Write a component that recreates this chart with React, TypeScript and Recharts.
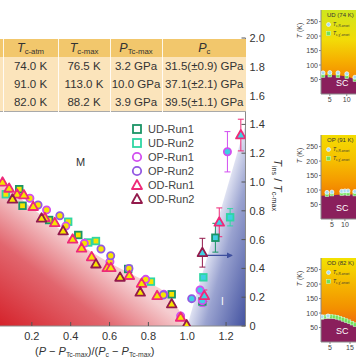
import React from "react";
import {
  Area,
  ComposedChart,
  ErrorBar,
  Line,
  ReferenceArea,
  Scatter,
  XAxis,
  YAxis,
} from "recharts";

const FONT = '"Liberation Sans", Arial, Helvetica, sans-serif';
const YELLOW = "#f6e400";
const CYAN = "#3fd0e2";

// phase boundaries of the main panel
const domeEdge = [
  { x: 0, y: 1.02 },
  { x: 0.1, y: 0.93 },
  { x: 0.2, y: 0.82 },
  { x: 0.3, y: 0.72 },
  { x: 0.4, y: 0.61 },
  { x: 0.5, y: 0.52 },
  { x: 0.6, y: 0.44 },
  { x: 0.7, y: 0.37 },
  { x: 0.8, y: 0.3 },
  { x: 0.88, y: 0.24 },
  { x: 0.94, y: 0.15 },
  { x: 1.0, y: 0 },
];
const insulatorEdge = [
  { x: 1.0, y: 0 },
  { x: 1.3, y: 1.4 },
];
const arrowPath = [
  { x: 1.08, y: 0.49 },
  { x: 1.23, y: 0.49 },
];

const udRun1 = [
  { x: 0.135, y: 0.95 },
  { x: 0.152, y: 0.835 },
  { x: 0.289, y: 0.736 },
  { x: 0.439, y: 0.632 },
  { x: 0.696, y: 0.396 },
  { x: 0.92, y: 0.22 },
  { x: 1.078, y: 0.17 },
  { x: 1.145, y: 0.613, err: 0.1 },
];
const udRun2 = [
  { x: 0.066, y: 0.915 },
  { x: 0.387, y: 0.724 },
  { x: 0.49, y: 0.58 },
  { x: 0.53, y: 0.59 },
  { x: 0.813, y: 0.308 },
  { x: 1.083, y: 0.338 },
  { x: 1.221, y: 0.755, err: 0.06 },
];
const opRun1 = [
  { x: 0.19, y: 0.887 },
  { x: 0.276, y: 0.806 },
  { x: 0.375, y: 0.694 },
  { x: 0.47, y: 0.574 },
  { x: 0.602, y: 0.447 },
  { x: 0.786, y: 0.324 },
  { x: 0.88, y: 0.22 },
  { x: 0.966, y: 0.07 },
  { x: 1.066, y: 0.25 },
  { x: 1.078, y: 0.176, err: 0.04 },
  { x: 1.207, y: 1.21, err: 0.14 },
];
const opRun2 = [
  { x: 0.232, y: 0.84 },
  { x: 0.344, y: 0.766 },
  { x: 0.556, y: 0.535 },
  { x: 0.606, y: 0.488 },
  { x: 0.7, y: 0.4 },
  { x: 0.877, y: 0.215 },
  { x: 1.023, y: 0.19 },
];
const odRun1 = [
  { x: 0.049, y: 0.998 },
  { x: 0.083, y: 0.956 },
  { x: 0.124, y: 0.915 },
  { x: 0.159, y: 0.91 },
  { x: 0.207, y: 0.829 },
  { x: 0.267, y: 0.752 },
  { x: 0.318, y: 0.717 },
  { x: 0.41, y: 0.602 },
  { x: 0.456, y: 0.54 },
  { x: 0.508, y: 0.48 },
  { x: 0.588, y: 0.405 },
  { x: 0.607, y: 0.405 },
  { x: 0.702, y: 0.35 },
  { x: 0.765, y: 0.296 },
  { x: 0.845, y: 0.21 },
  { x: 0.966, y: 0.06 },
  { x: 1.088, y: 0.21, err: 0.04 },
  { x: 1.165, y: 0.72, err: 0.1 },
  { x: 1.276, y: 1.326, err: 0.11 },
];
const odRun2 = [
  { x: 0.1, y: 0.88 },
  { x: 0.25, y: 0.748 },
  { x: 0.361, y: 0.66 },
  { x: 0.53, y: 0.43 },
  { x: 0.654, y: 0.338 },
  { x: 0.758, y: 0.234 },
  { x: 0.92, y: 0.153 },
  { x: 0.997, y: 0.007 },
  { x: 1.078, y: 0.509, err: 0.1 },
];

const xTicks = [0.2, 0.4, 0.6, 0.8, 1.0, 1.2];
const yTicks = [0, 0.2, 0.4, 0.6, 0.8, 1.0, 1.2, 1.4, 1.6, 1.8, 2.0];

const tcAtm = ["74.0 K", "91.0 K", "82.0 K"];
const tcMax = ["76.5 K", "113.0 K", "88.2 K"];
const pTcMax = ["3.2 GPa", "10.0 GPa", "3.9 GPa"];
const pc = ["31.5(±0.9) GPa", "37.1(±2.1) GPa", "39.5(±1.1) GPa"];

// small T–P panels on the right
const udEdge = [
  { x: 2.4, y: 64 },
  { x: 5, y: 66 },
  { x: 8, y: 64 },
  { x: 10, y: 60 },
  { x: 12.4, y: 50 },
  { x: 15, y: 40 },
  { x: 20, y: 25 },
];
const udOnsetR = [
  { x: 3, y: 73 },
  { x: 5, y: 74 },
  { x: 7.4, y: 73 },
  { x: 10, y: 70 },
  { x: 12.4, y: 58 },
];
const udOnsetChi = [
  { x: 3, y: 64 },
  { x: 5, y: 65 },
  { x: 7.4, y: 63 },
  { x: 10, y: 60 },
  { x: 12.4, y: 50 },
];
const opEdge = [
  { x: 0.8, y: 80 },
  { x: 5, y: 82 },
  { x: 10, y: 85 },
  { x: 15, y: 84 },
  { x: 20, y: 80 },
  { x: 24, y: 76 },
];
const opOnsetR = [
  { x: 3.1, y: 92 },
  { x: 5, y: 93 },
  { x: 8.8, y: 96 },
  { x: 10, y: 97 },
  { x: 11.2, y: 97 },
  { x: 13.8, y: 95 },
];
const opOnsetChi = [
  { x: 3.1, y: 84 },
  { x: 5, y: 86 },
  { x: 8.8, y: 88 },
  { x: 10, y: 89 },
  { x: 11.2, y: 88 },
  { x: 13.8, y: 86 },
];
const odEdge = [
  { x: 0.5, y: 80 },
  { x: 4, y: 84 },
  { x: 8, y: 81 },
  { x: 12, y: 73 },
  { x: 16, y: 62 },
  { x: 20, y: 50 },
  { x: 30, y: 25 },
];
const odOnsetR = [
  { x: 1, y: 87 },
  { x: 4, y: 90 },
];
const odOnsetChi = [
  { x: 1, y: 85 },
  { x: 2.5, y: 87 },
  { x: 4, y: 88 },
  { x: 5.5, y: 88 },
  { x: 7, y: 87 },
  { x: 8.5, y: 85 },
  { x: 10, y: 82 },
  { x: 11.5, y: 78 },
  { x: 13, y: 74 },
  { x: 14.5, y: 70 },
  { x: 16, y: 65 },
  { x: 17.5, y: 60 },
];
const panelYTicks = [50, 100, 150, 200, 250];

type Kind = "square" | "circle" | "triangle";

function marker(kind: Kind, stroke: string) {
  return (props: any) => {
    const { cx, cy, payload } = props;
    const fill = payload.x > 1 ? CYAN : YELLOW;
    if (kind === "square")
      return <rect x={cx - 3.3} y={cy - 3.3} width={6.6} height={6.6} fill={fill} stroke={stroke} strokeWidth={1.8} />;
    if (kind === "circle")
      return <circle cx={cx} cy={cy} r={3.6} fill={fill} stroke={stroke} strokeWidth={1.8} />;
    return (
      <path
        d={`M${cx},${cy - 5} L${cx + 4.8},${cy + 3.4} L${cx - 4.8},${cy + 3.4} Z`}
        fill={fill}
        stroke={stroke}
        strokeWidth={1.8}
        strokeLinejoin="round"
      />
    );
  };
}

const series = [
  { name: "UD-Run1", data: udRun1, kind: "square" as Kind, color: "#1b9466" },
  { name: "UD-Run2", data: udRun2, kind: "square" as Kind, color: "#2fd6a4" },
  { name: "OP-Run1", data: opRun1, kind: "circle" as Kind, color: "#d24ef0" },
  { name: "OP-Run2", data: opRun2, kind: "circle" as Kind, color: "#9358e2" },
  { name: "OD-Run1", data: odRun1, kind: "triangle" as Kind, color: "#ee2a78" },
  { name: "OD-Run2", data: odRun2, kind: "triangle" as Kind, color: "#931a4c" },
];

function LegendIcon({ kind, color }: { kind: Kind; color: string }) {
  return (
    <svg width={12} height={12}>
      {kind === "square" && <rect x={2} y={2} width={8} height={8} fill="none" stroke={color} strokeWidth={1.8} />}
      {kind === "circle" && <circle cx={6} cy={6} r={4.2} fill="none" stroke={color} strokeWidth={1.8} />}
      {kind === "triangle" && (
        <path d="M6,1 L11,10 L1,10 Z" fill="none" stroke={color} strokeWidth={1.8} strokeLinejoin="round" />
      )}
    </svg>
  );
}

const Tsub = ({ main, sub }: { main: string; sub: string }) => (
  <span>
    <i>{main}</i>
    <sub style={{ fontSize: "0.62em", verticalAlign: "-0.25em" }}>{sub}</sub>
  </span>
);

function InfoTable() {
  const cell: React.CSSProperties = {
    borderLeft: "1px solid rgba(255,255,255,0.85)",
    textAlign: "center",
    padding: 0,
    height: 18,
  };
  const widths = [3, 55, 52, 52, 84];
  return (
    <table
      style={{
        position: "absolute",
        left: 0,
        top: 39,
        width: 246,
        borderCollapse: "collapse",
        tableLayout: "fixed",
        fontSize: 11.5,
        color: "#333",
        borderBottom: "1px solid #a9a9a9",
      }}
    >
      <colgroup>
        {widths.map((w, i) => (
          <col key={i} style={{ width: w }} />
        ))}
      </colgroup>
      <thead>
        <tr style={{ background: "#f2c76c", fontSize: 12.5 }}>
          <td style={{ ...cell, borderLeft: "none" }} />
          <td style={cell}><Tsub main="T" sub="c-atm" /></td>
          <td style={cell}><Tsub main="T" sub="c-max" /></td>
          <td style={cell}><Tsub main="P" sub="Tc-max" /></td>
          <td style={cell}><Tsub main="P" sub="c" /></td>
        </tr>
      </thead>
      <tbody style={{ background: "#fbe4bb" }}>
        {tcAtm.map((v, i) => (
          <tr key={i}>
            <td style={{ ...cell, borderLeft: "none" }} />
            <td style={cell}>{v}</td>
            <td style={cell}>{tcMax[i]}</td>
            <td style={cell}>{pTcMax[i]}</td>
            <td style={cell}>{pc[i]}</td>
          </tr>
        ))}
      </tbody>
    </table>
  );
}

interface PanelProps {
  top: number;
  id: string;
  tag: string;
  edge: { x: number; y: number }[];
  onsetR: { x: number; y: number }[];
  onsetChi: { x: number; y: number }[];
  xDomain: [number, number];
  xTicks: number[];
  stops: [number, string][];
}

function Panel({ top, id, tag, edge, onsetR, onsetChi, xDomain, xTicks, stops }: PanelProps) {
  return (
    <div style={{ position: "absolute", left: 290, top, width: 90, height: 110 }}>
      <ComposedChart width={90} height={110} margin={{ top: 10, right: 0, bottom: 1, left: 0 }}>
        <defs>
          <linearGradient id={id} x1="0" y1="0" x2="0" y2="1">
            {stops.map(([o, c]) => (
              <stop key={o} offset={o} stopColor={c} />
            ))}
          </linearGradient>
        </defs>
        <XAxis
          type="number"
          dataKey="x"
          domain={xDomain}
          ticks={xTicks}
          allowDataOverflow
          height={15}
          tickSize={2}
          tickMargin={1}
          tick={{ fontSize: 7, fill: "#444", fontFamily: FONT }}
          axisLine={{ stroke: "#888" }}
          tickLine={{ stroke: "#888" }}
        />
        <YAxis
          type="number"
          dataKey="y"
          domain={[0, 290]}
          ticks={panelYTicks}
          allowDataOverflow
          width={31}
          tickSize={2}
          tickMargin={1}
          tick={{ fontSize: 7, fill: "#444", fontFamily: FONT }}
          axisLine={{ stroke: "#888" }}
          tickLine={{ stroke: "#888" }}
        />
        <ReferenceArea x1={xDomain[0]} x2={xDomain[1]} y1={0} y2={290} fill={`url(#${id})`} fillOpacity={1} stroke="none" />
        <Area data={edge} dataKey="y" type="monotone" stroke="none" fill="#8a1f5c" fillOpacity={1} isAnimationActive={false} />
        <Scatter
          data={onsetChi}
          isAnimationActive={false}
          shape={(p: any) => (
            <rect x={p.cx - 1.8} y={p.cy - 1.8} width={3.6} height={3.6} fill="#72e05a" stroke="#c8ffd0" strokeWidth={0.6} />
          )}
        />
        <Scatter
          data={onsetR}
          isAnimationActive={false}
          shape={(p: any) => <circle cx={p.cx} cy={p.cy} r={2} fill="#a9dcf2" stroke="#ffffff" strokeWidth={0.7} />}
        />
      </ComposedChart>
      <div style={{ position: "absolute", left: 37, top: 12, fontSize: 6, color: "#333", whiteSpace: "nowrap" }}>{tag}</div>
      <div style={{ position: "absolute", left: 36, top: 21, fontSize: 5, color: "#333", whiteSpace: "nowrap", display: "flex", alignItems: "center", gap: 2 }}>
        <svg width={5} height={5}><circle cx={2.5} cy={2.5} r={2} fill="#a9dcf2" stroke="#fff" strokeWidth={0.6} /></svg>
        <Tsub main="T" sub="c,R-onset" />
      </div>
      <div style={{ position: "absolute", left: 36, top: 30, fontSize: 5, color: "#333", whiteSpace: "nowrap", display: "flex", alignItems: "center", gap: 2 }}>
        <svg width={5} height={5}><rect x={0.5} y={0.5} width={4} height={4} fill="#72e05a" stroke="#c8ffd0" strokeWidth={0.5} /></svg>
        <Tsub main="T" sub="c,χ′-onset" />
      </div>
      <div style={{ position: "absolute", left: 46, top: 78, fontSize: 9, color: "#fff" }}>SC</div>
      <div
        style={{
          position: "absolute",
          left: 2,
          top: 27,
          fontSize: 7,
          color: "#444",
          transform: "rotate(-90deg)",
          transformOrigin: "center",
          whiteSpace: "nowrap",
        }}
      >
        <i>T</i> (K)
      </div>
    </div>
  );
}

export default function App() {
  return (
    <div
      style={{
        position: "fixed",
        left: 0,
        top: 0,
        width: 356,
        height: 364,
        overflow: "hidden",
        background: "#fff",
        fontFamily: FONT,
      }}
    >
      <div style={{ position: "absolute", left: -7, top: 0 }}>
        <ComposedChart width={310} height={364} margin={{ top: 38, right: 27.5, bottom: 8, left: 0 }}>
          <defs>
            <linearGradient id="dome" x1="0" y1="1" x2="0.5" y2="0.5">
              <stop offset="0" stopColor="#d41e26" />
              <stop offset="0.6" stopColor="#e2666e" />
              <stop offset="1" stopColor="#f5cdd0" />
            </linearGradient>
            <linearGradient id="insul" x1="0.5" y1="0.5" x2="1" y2="1">
              <stop offset="0" stopColor="#dfe2f2" />
              <stop offset="0.3" stopColor="#9aa3d0" />
              <stop offset="1" stopColor="#4352a0" />
            </linearGradient>
            <marker id="arrowHead" markerWidth="6" markerHeight="6" refX="5" refY="3" orient="auto" markerUnits="userSpaceOnUse">
              <path d="M0,0 L6,3 L0,6 Z" fill="#3e4f9e" />
            </marker>
          </defs>
          <XAxis
            type="number"
            dataKey="x"
            domain={[0, 1.3]}
            ticks={xTicks}
            allowDataOverflow
            height={30}
            tickSize={-4}
            tickMargin={10}
            tickFormatter={(v: number) => v.toFixed(1)}
            tick={{ fontSize: 11, fill: "#333", fontFamily: FONT }}
            axisLine={{ stroke: "#8a8a8a" }}
            tickLine={{ stroke: "#555" }}
          />
          <YAxis
            type="number"
            dataKey="y"
            orientation="right"
            domain={[0, 2]}
            ticks={yTicks}
            allowDataOverflow
            width={30}
            tickSize={-4}
            tickMargin={8}
            tickFormatter={(v: number) => (v === 0 ? "0" : v.toFixed(1))}
            tick={{ fontSize: 11, fill: "#333", fontFamily: FONT }}
            axisLine={{ stroke: "#8a8a8a" }}
            tickLine={{ stroke: "#555" }}
          />
          <Area data={domeEdge} dataKey="y" type="monotone" stroke="none" fill="url(#dome)" fillOpacity={1} isAnimationActive={false} />
          <Area data={insulatorEdge} dataKey="y" type="linear" stroke="none" fill="url(#insul)" fillOpacity={1} isAnimationActive={false} />
          <Line
            data={arrowPath}
            dataKey="y"
            stroke="#3e4f9e"
            strokeWidth={1.2}
            dot={false}
            markerEnd="url(#arrowHead)"
            isAnimationActive={false}
          />
          {series.map((s) => (
            <Scatter key={s.name} name={s.name} data={s.data} shape={marker(s.kind, s.color)} isAnimationActive={false}>
              <ErrorBar dataKey="err" direction="y" stroke={s.color} strokeWidth={1} width={3} />
            </Scatter>
          ))}
        </ComposedChart>
      </div>

      <InfoTable />

      <div style={{ position: "absolute", left: 76, top: 156, fontSize: 11, color: "#333" }}>M</div>
      <div style={{ position: "absolute", left: 221, top: 296, fontSize: 10, color: "#fff" }}>I</div>

      <div style={{ position: "absolute", left: 131, top: 122, fontSize: 11, color: "#444", lineHeight: "14px" }}>
        {series.map((s) => (
          <div key={s.name} style={{ display: "flex", alignItems: "center", gap: 5, height: 14 }}>
            <LegendIcon kind={s.kind} color={s.color} />
            <span>{s.name}</span>
          </div>
        ))}
      </div>

      <div style={{ position: "absolute", left: 35, top: 345, fontSize: 11, color: "#333", whiteSpace: "nowrap" }}>
        (<i>P</i> − <Tsub main="P" sub="Tc-max" />)/(<Tsub main="P" sub="c" /> − <Tsub main="P" sub="Tc-max" />)
      </div>

      <div
        style={{
          position: "absolute",
          left: 277,
          top: 185,
          fontSize: 11.5,
          color: "#333",
          whiteSpace: "nowrap",
          transform: "translate(-50%, -50%) rotate(90deg)",
        }}
      >
        <Tsub main="T" sub="ins" /> / <Tsub main="T" sub="c-max" />
      </div>

      <Panel
        top={0}
        id="gUD"
        tag="UD (74 K)"
        edge={udEdge}
        onsetR={udOnsetR}
        onsetChi={udOnsetChi}
        xDomain={[2.4, 19.8]}
        xTicks={[5, 10]}
        stops={[
          [0, "#cfe61e"],
          [0.35, "#f2dc08"],
          [0.6, "#f6b000"],
          [0.85, "#f38400"],
          [1, "#f07000"],
        ]}
      />
      <Panel
        top={125}
        id="gOP"
        tag="OP (91 K)"
        edge={opEdge}
        onsetR={opOnsetR}
        onsetChi={opOnsetChi}
        xDomain={[0.8, 23.5]}
        xTicks={[5, 10]}
        stops={[
          [0, "#f4dc02"],
          [0.3, "#f6c000"],
          [0.55, "#f59a00"],
          [0.75, "#f07800"],
          [1, "#ea5a10"],
        ]}
      />
      <Panel
        top={248}
        id="gOD"
        tag="OD (82 K)"
        edge={odEdge}
        onsetR={odOnsetR}
        onsetChi={odOnsetChi}
        xDomain={[0.5, 30]}
        xTicks={[5, 10, 15]}
        stops={[
          [0, "#f3e200"],
          [0.3, "#f5b800"],
          [0.6, "#f39000"],
          [0.8, "#ef6a10"],
          [1, "#e8501a"],
        ]}
      />
    </div>
  );
}
